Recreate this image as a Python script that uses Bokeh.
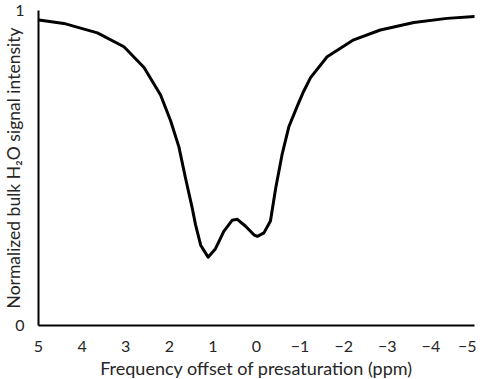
from bokeh.plotting import figure
from bokeh.models import Range1d, FixedTicker
from bokeh.embed import file_html
from bokeh.resources import INLINE

# Frequency offset (ppm) and normalized bulk water signal
offset_ppm = [4.99, 4.42, 3.65, 3.04, 2.58, 2.20, 1.97, 1.78, 1.63, 1.47, 1.40, 1.28,
              1.11, 0.94, 0.75, 0.56, 0.44, 0.25, 0.06, -0.02, -0.17, -0.32, -0.44,
              -0.59, -0.74, -0.93, -1.08, -1.24, -1.62, -2.23, -2.84, -3.61, -4.37, -5.0]
signal = [0.970, 0.959, 0.929, 0.885, 0.819, 0.732, 0.650, 0.567, 0.469, 0.370, 0.321, 0.255,
          0.217, 0.244, 0.299, 0.334, 0.337, 0.315, 0.288, 0.283, 0.294, 0.332, 0.436,
          0.545, 0.630, 0.695, 0.743, 0.787, 0.853, 0.907, 0.938, 0.962, 0.975, 0.981]

x_ticks = [5, 4, 3, 2, 1, 0, -1, -2, -3, -4, -5]
y_ticks = [0, 1]

FONT = "Lato"
TXT = "#262626"

p = figure(width=476, height=381, output_backend="svg", toolbar_location=None,
           x_range=Range1d(5, -5), y_range=Range1d(0, 1),
           min_border_left=30, min_border_right=2, min_border_top=10, min_border_bottom=10)

p.line(offset_ppm, signal, line_color="black", line_width=3, line_join="round", line_cap="round")

p.grid.visible = False
p.outline_line_color = None
p.background_fill_color = "white"
p.border_fill_color = "white"

p.xaxis.ticker = FixedTicker(ticks=x_ticks)
p.yaxis.ticker = FixedTicker(ticks=y_ticks)

for ax in (p.xaxis[0], p.yaxis[0]):
    ax.axis_line_color = "black"
    ax.axis_line_width = 2
    ax.major_tick_line_color = None
    ax.minor_tick_line_color = None
    ax.major_tick_out = 0
    ax.major_tick_in = 0
    ax.minor_tick_out = 0
    ax.minor_tick_in = 0
    ax.major_label_text_font = FONT
    ax.major_label_text_font_size = "16px"
    ax.major_label_text_color = TXT
    ax.axis_label_text_font = FONT
    ax.axis_label_text_font_style = "normal"
    ax.axis_label_text_color = TXT

p.xaxis.axis_label = "Frequency offset of presaturation (ppm)"
p.xaxis.axis_label_text_font_size = "18px"
p.xaxis.major_label_standoff = 15
p.xaxis.axis_label_standoff = 2

p.yaxis.axis_label = "Normalized bulk H\u2082O signal intensity"
p.yaxis.axis_label_text_font_size = "17.5px"
p.yaxis.major_label_standoff = 14
p.yaxis.axis_label_standoff = -12
p.yaxis.major_label_orientation = "horizontal"

open("out.html", "w").write(file_html(p, INLINE))
